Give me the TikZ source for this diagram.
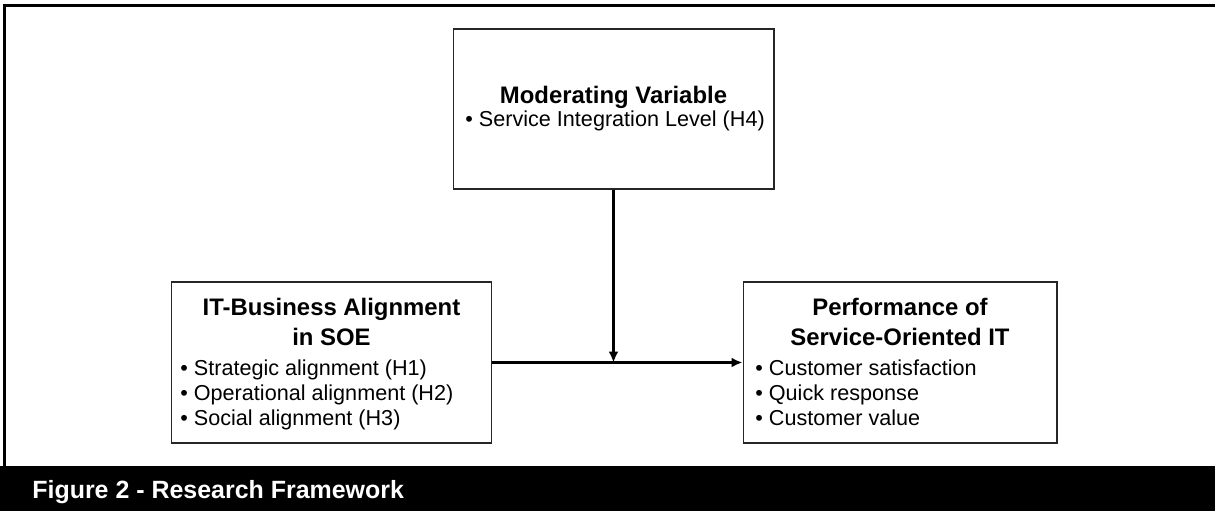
\documentclass[tikz,border=0pt]{standalone}
\usepackage{fontspec}
\setmainfont{Liberation Sans}
\usetikzlibrary{arrows.meta}

\begin{document}
\begin{tikzpicture}[x=0.02cm,y=-0.02cm,
  box/.style={draw=black!85,line width=0.6pt,minimum width=6.42cm,minimum height=3.22cm,inner sep=0pt},
  ttl/.style={anchor=base,inner sep=0pt,font=\bfseries\fontsize{13.6}{16}\selectfont},
  bul/.style={anchor=base west,inner sep=0pt,font=\fontsize{12.3}{14}\selectfont},
  link/.style={line width=1.5pt,-{Latex[length=2.2mm,width=2mm]}}]
\useasboundingbox (0,0) rectangle (1215,511);
\fill[black] (0,466) rectangle (1215,511);
\draw[line width=1.5pt] (1215,5.5) -- (4.5,5.5) -- (4.5,466);
\node[text=white,anchor=base west,inner sep=0pt,font=\bfseries\fontsize{14.2}{17}\selectfont] (cap) at (32,498) {Figure 2 - Research Framework};
% moderating variable
\node[box,minimum height=3.2cm] (mod) at (613.5,109) {};
\node[ttl] (modT) at (613.5,103) {Moderating Variable};
\node[bul] (modA) at (465,126) {• Service Integration Level (H4)};
% alignment
\node[box] (align) at (331.5,362.5) {};
\node[ttl] (alignT1) at (331.5,315) {IT-Business Alignment};
\node[ttl] (alignT2) at (331.5,345) {in SOE};
\node[bul] (alignA) at (180,375) {• Strategic alignment (H1)};
\node[bul] (alignB) at (180,400) {• Operational alignment (H2)};
\node[bul] (alignC) at (180,425) {• Social alignment (H3)};
% performance
\node[box,minimum width=6.28cm] (perf) at (900,362.5) {};
\node[ttl] (perfT1) at (900,315) {Performance of};
\node[ttl] (perfT2) at (900,345) {Service-Oriented IT};
\node[bul] (perfA) at (755,375) {• Customer satisfaction};
\node[bul] (perfB) at (755,400) {• Quick response};
\node[bul] (perfC) at (755,425) {• Customer value};
% arrows
\coordinate (meet) at (mod.south |- align.east);
\draw[link] (align.east) -- (perf.west);
\draw[link] (mod.south) -- (meet);
\end{tikzpicture}
\end{document}
